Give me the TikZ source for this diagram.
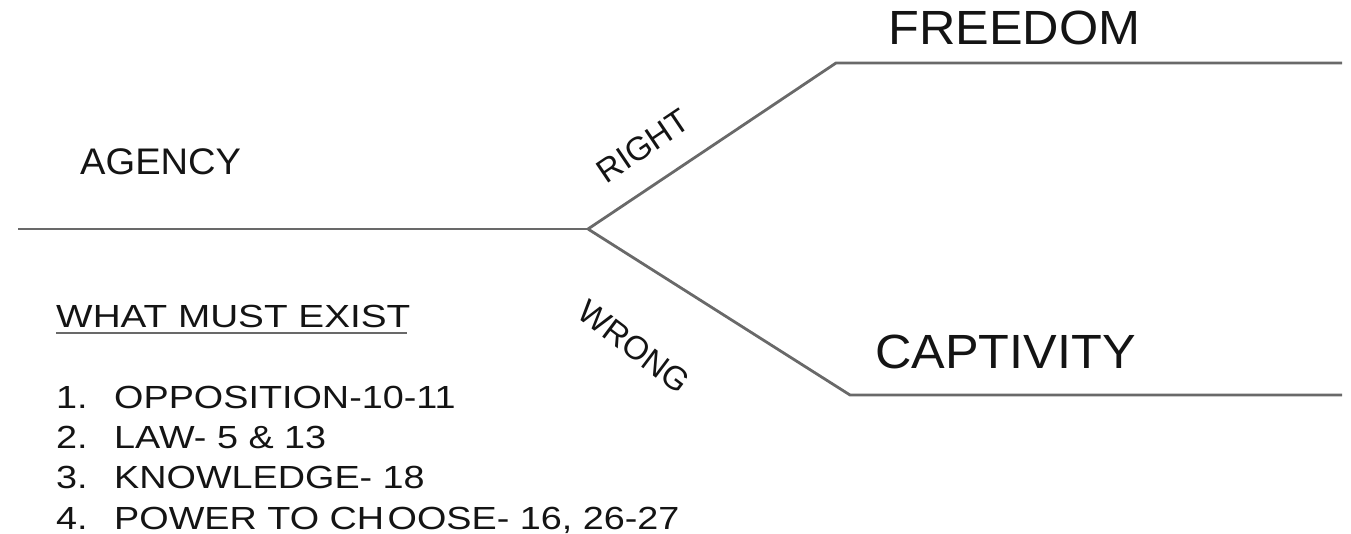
\documentclass[tikz,border=0pt]{standalone}
\usepackage{fontspec}
\setmainfont{Liberation Sans}
\definecolor{linegray}{RGB}{105,105,105}
\definecolor{inkc}{RGB}{20,20,20}
\begin{document}
\begin{tikzpicture}[x=1pt,y=-1pt,
  branch/.style={draw=linegray,line width=2.8pt},
  lbl/.style={inner sep=0pt,text=inkc,anchor=base west},
  listfont/.style={font=\fontsize{32}{36}\selectfont,xscale=1.18},
  bigfont/.style={font=\fontsize{48}{52}\selectfont},
  midfont/.style={font=\fontsize{37}{40}\selectfont},
  diagfont/.style={font=\fontsize{33}{36}\selectfont,inner sep=0pt,text=inkc}]
\useasboundingbox (0,0) rectangle (1351,534);
\coordinate (start) at (18,229);
\coordinate (fork) at (588,229);
\coordinate (upc) at (836,63);
\coordinate (upend) at (1342,63);
\coordinate (loc) at (850,395);
\coordinate (loend) at (1342,395);
\draw[branch,line join=miter] (start) -- (fork);
\draw[branch,line join=miter] (fork) -- (upc) -- (upend);
\draw[branch,line join=miter] (fork) -- (loc) -- (loend);
\node[lbl,midfont,xscale=1.03] (agency) at (80,175) {AGENCY};
\node[lbl,bigfont,xscale=1.05] (freedom) at (888,45) {FREEDOM};
\node[lbl,bigfont,xscale=1.05] (captivity) at (875,368) {CAPTIVITY};
\node[diagfont,rotate=34] (right) at (643,146) {RIGHT};
\node[diagfont,rotate=-37] (wrong) at (634,347) {WRONG};
\node[lbl,listfont,xscale=1.025] (head) at (56,327) {WHAT MUST EXIST};
\draw[draw=linegray,line width=2.6pt] (56,333) -- (407,333);
\node[lbl,listfont] (n1) at (56,408) {1.};
\node[lbl,listfont] (t1) at (114,408) {OPPOSITION-10-11};
\node[lbl,listfont] (n2) at (56,448) {2.};
\node[lbl,listfont] (t2) at (114,448) {LAW- 5 \& 13};
\node[lbl,listfont] (n3) at (56,488) {3.};
\node[lbl,listfont] (t3) at (114,488) {KNOWLEDGE- 18};
\node[lbl,listfont] (n4) at (56,529) {4.};
\node[lbl,listfont] (t4) at (114,529) {POWER TO CH\kern3pt OOSE- 16, 26-27};
\end{tikzpicture}
\end{document}
